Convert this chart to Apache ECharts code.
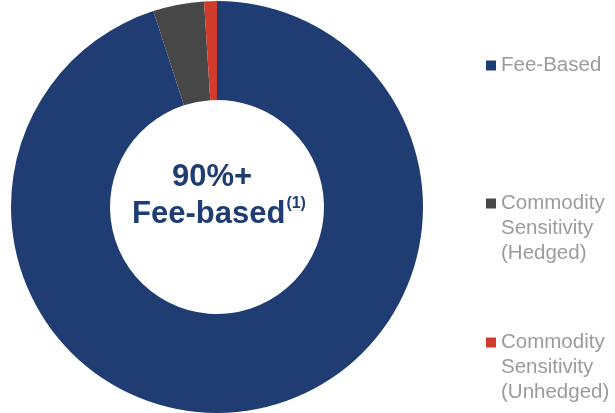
<!DOCTYPE html>
<html>
<head>
<meta charset="utf-8">
<script src="https://cdn.jsdelivr.net/npm/echarts@6/dist/echarts.min.js"></script>
<style>
  html, body { margin: 0; padding: 0; background: #fff; }
  #chart { width: 615px; height: 413px; }
</style>
</head>
<body>
<div id="chart"></div>
<script>
// slice data, clockwise from 12 o'clock
const categories = ['Fee-Based', 'Commodity Sensitivity (Hedged)', 'Commodity Sensitivity (Unhedged)'];
const shares = [95, 4, 1];
const colors = ['#1f3c73', '#474747', '#d13b2c'];

const font = '"Liberation Sans", Arial, sans-serif';

const chart = echarts.init(document.getElementById('chart'));

// one legend per item so each can sit at its own height
const legendTops = [53, 141, 280];
const legends = categories.map((name, i) => ({
  data: [name],
  orient: 'vertical',
  left: 486,
  top: legendTops[i],
  padding: 0,
  itemWidth: 10,
  itemHeight: 10,
  icon: 'rect',
  selectedMode: false,
  formatter: n => (n.indexOf(' ') > 0 ? '\n\n' + n.split(' ').join('\n') : n),
  textStyle: { color: '#9b9b9b', fontSize: 20.5, lineHeight: 25, fontFamily: font }
}));

const option = {
  animation: false,
  color: colors,
  title: {
    text: '{a|90%+}\n{b|Fee-based}{c|(1)}',
    left: 214,
    top: 154,
    textAlign: 'center',
    textStyle: {
      rich: {
        a: { fontSize: 31, fontWeight: 'bold', color: '#1f3c73', fontFamily: font, lineHeight: 37, padding: [0, 14, 0, 0] },
        b: { fontSize: 31, fontWeight: 'bold', color: '#1f3c73', fontFamily: font, lineHeight: 37 },
        c: { fontSize: 16, fontWeight: 'bold', color: '#1f3c73', fontFamily: font, lineHeight: 37, verticalAlign: 'top', padding: [0, 0, 10, 1] }
      }
    }
  },
  legend: legends,
  series: [
    {
      type: 'pie',
      center: [217, 207],
      radius: [107, 206],
      startAngle: 90,
      clockwise: true,
      label: { show: false },
      labelLine: { show: false },
      emphasis: { disabled: true },
      itemStyle: { borderWidth: 0 },
      data: categories.map((name, i) => ({ name: name, value: shares[i] }))
    }
  ]
};

chart.setOption(option);
</script>
</body>
</html>
